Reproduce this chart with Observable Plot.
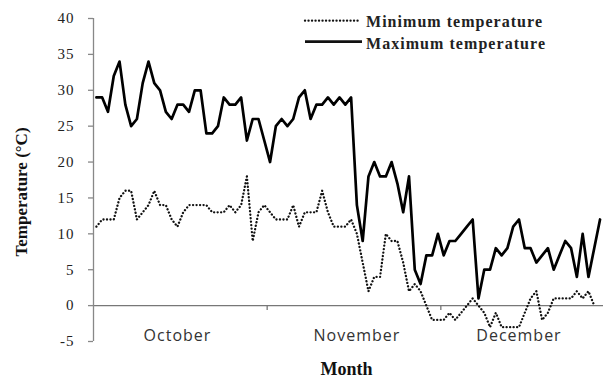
<!DOCTYPE html>
<html><head><meta charset="utf-8">
<script src="https://cdn.jsdelivr.net/npm/d3@7"></script>
<script src="https://cdn.jsdelivr.net/npm/@observablehq/plot@0.6"></script>
<style>
html,body{margin:0;padding:0;background:#fff;}
#wrap{position:relative;width:603px;height:379px;overflow:hidden;}
#legend{position:absolute;left:0;top:0;}
</style></head><body><div id="wrap"></div>
<script>
// Daily maximum temperature (°C), October → December
const maxTemp = [29,29,27,32,34,28,25,26,31,34, 31,30,27,26,28,28,27,30,30,24,
  24,25,29,28,28,29,23,26,26,23, 20,25,26,25,26,29,30,26,28,28,
  29,28,29,28,29,14,9,18,20,18, 18,20,17,13,18,5,3,7,7,10,
  7,9,9,10,11,12,1,5,5,8, 7,8,11,12,8,8,6,7,8,5,
  7,9,8,4,10,4,8,12];
// Daily minimum temperature (°C)
const minTemp = [11,12,12,12,15,16,16,12,13,14, 16,14,14,12,11,13,14,14,14,14,
  13,13,13,14,13,14,18,9,13,14, 13,12,12,12,14,11,13,13,13,16,
  13,11,11,11,12,10,6,2,4,4, 10,9,9,6,2,3,2,0,-2,-2,
  -2,-1,-2,-1,0,1,0,-1,-3,-1, -3,-3,-3,-3,-1,1,2,-2,-1,1,
  1,1,1,2,1,2,0];
const yTicks = [-5,0,5,10,15,20,25,30,35,40];
const monthNames = ["October","November","December"];
const monthLabelDay = [14,45,73];
const monthBreaks = [29.5,59.5];
const seriesNames = ["Minimum temperature","Maximum temperature"];

const minRows = minTemp.map((t,i)=>({day:i,temp:t}));
const maxRows = maxTemp.map((t,i)=>({day:i,temp:t}));

const serif = "'Liberation Serif','Times New Roman',serif";

const chart = Plot.plot({
  width:603, height:379,
  marginLeft:93, marginRight:0, marginTop:18, marginBottom:38,
  x:{domain:[-0.5,87.6], axis:null},
  y:{domain:[-5,40], axis:null},
  style:{background:"#fff", fontFamily:serif},
  marks:[
    Plot.ruleY([0], {stroke:"#777", strokeWidth:1.3}),
    Plot.ruleX(monthBreaks, {y1:0, y2:0, insetBottom:-5, stroke:"#777", strokeWidth:1.3}),
    Plot.ruleX([-0.5], {y1:-5, y2:40, stroke:"#888", strokeWidth:1.3}),
    Plot.axisY({ticks:yTicks, tickSize:5, tickPadding:14, stroke:"#888", fill:"#222",
      fontSize:15, fontFamily:serif, strokeWidth:1.3, label:null, tickFormat:d=>String(d)}),
    Plot.line(minRows, {x:"day", y:"temp", stroke:"#111", strokeWidth:2.3,
      strokeDasharray:"0.1 3.4", strokeLinecap:"round"}),
    Plot.line(maxRows, {x:"day", y:"temp", stroke:"#000", strokeWidth:2.7}),
    Plot.text(monthLabelDay, {x:d=>d, text:(d,i)=>monthNames[i], frameAnchor:"bottom",
      lineAnchor:"middle", dy:-6, fontFamily:"'Open Sans',sans-serif", fontSize:16, fill:"#333"}),
    Plot.text(["Month"], {frameAnchor:"bottom", lineAnchor:"middle", textAnchor:"middle",
      dy:28, dx:-2, fontWeight:"bold", fontSize:18, fontFamily:serif, fill:"#111"}),
    Plot.text(["Temperature (°C)"], {frameAnchor:"left", rotate:-90, textAnchor:"middle",
      lineAnchor:"middle", dx:-72, dy:12, fontWeight:"bold", fontSize:17, fontFamily:serif, fill:"#111"})
  ]
});
chart.querySelectorAll("g[aria-label='y-axis tick label'] text").forEach(t=>t.setAttribute("letter-spacing","1"));
chart.querySelectorAll("text").forEach(t=>{ if (monthNames.includes(t.textContent)) t.setAttribute("letter-spacing","1"); });
const wrap = document.getElementById("wrap");
wrap.appendChild(chart);

// Legend
const leg = d3.select(wrap).append("svg").attr("id","legend").attr("width",603).attr("height",60);
const legRows = [
  {name:seriesNames[0], y:20.7, ty:21.5, x2:358, dash:"0.1 3.4", w:2.3, len:176},
  {name:seriesNames[1], y:41.7, ty:43, x2:362, dash:null, w:2.7, len:179}
];
legRows.forEach(r=>{
  const l = leg.append("line").attr("x1",305).attr("x2",r.x2).attr("y1",r.y).attr("y2",r.y)
    .attr("stroke","#111").attr("stroke-width",r.w).attr("stroke-linecap", r.dash ? "round" : "butt");
  if (r.dash) l.attr("stroke-dasharray", r.dash);
  leg.append("text").attr("x",366).attr("y",r.ty).attr("dy","0.35em")
    .attr("font-family",serif).attr("font-size",16).attr("font-weight","bold").attr("fill","#222")
    .attr("textLength",r.len).attr("lengthAdjust","spacing").text(r.name);
});
</script></body></html>
